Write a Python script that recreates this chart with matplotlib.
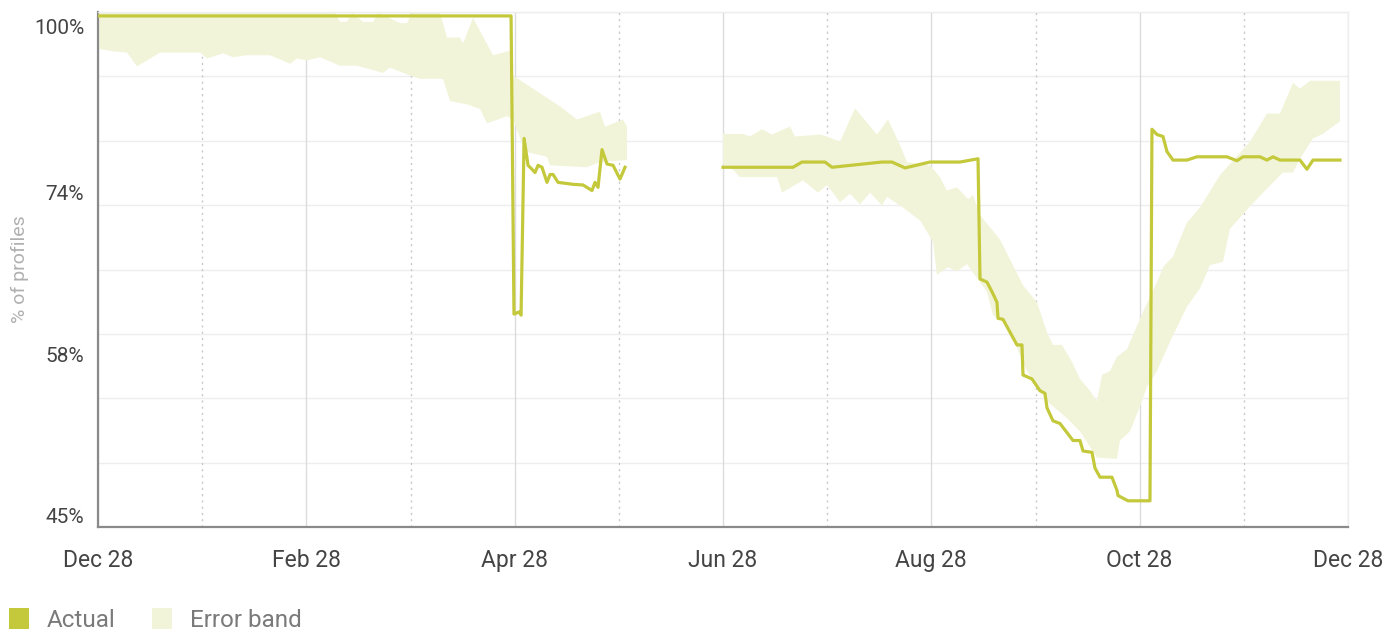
import numpy as np
import matplotlib
matplotlib.use('Agg')
import matplotlib.pyplot as plt
from matplotlib.patches import Patch
from matplotlib.transforms import ScaledTranslation

plt.rcParams['font.family'] = ['Roboto', 'DejaVu Sans']

# x is measured in months after Dec 28
month_labels = ['Dec 28', 'Feb 28', 'Apr 28', 'Jun 28', 'Aug 28', 'Oct 28', 'Dec 28']
y_ticks = [45, 58, 74, 100]

# Actual, first stretch (Dec - May)
actual1_x = [0, 3.965, 3.993, 4.042, 4.061, 4.09, 4.128, 4.166, 4.195, 4.224, 4.262, 4.31,
             4.339, 4.368, 4.416, 4.56, 4.656, 4.742, 4.771, 4.8, 4.838, 4.886, 4.944, 5.011, 5.059]
actual1_y = [100, 100, 62.0, 62.2, 61.9, 81.3, 77.2, 76.6, 76.1, 77.2, 76.9, 74.6,
             75.8, 75.8, 74.6, 74.3, 74.2, 73.6, 74.6, 73.9, 79.6, 77.4, 77.2, 75.1, 76.9]

# Actual, second stretch (Jun - Dec)
actual2_x = [6.0, 6.672, 6.758, 6.979, 7.046, 7.526, 7.622, 7.747, 7.987, 8.275, 8.448, 8.467,
             8.534, 8.582, 8.63, 8.64, 8.688, 8.822, 8.87, 8.88, 8.966, 9.043, 9.091, 9.11,
             9.168, 9.235, 9.36, 9.427, 9.456, 9.542, 9.571, 9.619, 9.734, 9.782, 9.792, 9.888,
             10.099, 10.118, 10.166, 10.224, 10.262, 10.32, 10.454, 10.55, 10.838, 10.934,
             10.992, 11.155, 11.222, 11.28, 11.347, 11.539, 11.606, 11.664, 11.923]
actual2_y = [76.9, 76.9, 77.7, 77.7, 76.9, 77.7, 77.7, 76.8, 77.7, 77.7, 78.2, 65.3,
             65.0, 64.1, 63.1, 61.6, 61.5, 59.1, 59.1, 56.6, 56.3, 55.4, 55.2, 54.1,
             53.1, 52.9, 51.6, 51.6, 50.8, 50.7, 49.5, 48.8, 48.8, 47.8, 47.4, 47.0,
             47.0, 82.7, 81.9, 81.6, 79.3, 78.0, 78.0, 78.5, 78.5, 77.9,
             78.5, 78.5, 78.0, 78.5, 78.0, 78.0, 76.6, 78.0, 78.0]

# Error band, first stretch
band1_up_x = [0, 2.275, 2.323, 2.39, 2.438, 2.544, 2.64, 2.688, 2.899, 2.966, 3.014, 3.283,
              3.35, 3.475, 3.504, 3.6, 3.792, 3.955, 3.984, 4.214, 4.435, 4.598, 4.819,
              4.867, 5.04, 5.078]
band1_up = [100.5, 100.5, 99.1, 99.1, 100.5, 99.1, 99.1, 100.5, 98.9, 98.9, 100.5, 100.5,
            96.7, 96.7, 95.8, 99.7, 94.0, 94.7, 90.9, 88.5, 86.2, 84.2, 85.4,
            83.1, 84.2, 83.1]
band1_lo_x = [0, 0.144, 0.278, 0.374, 0.595, 0.979, 1.046, 1.2, 1.296, 1.43, 1.651, 1.843,
              1.91, 2.006, 2.131, 2.323, 2.486, 2.736, 2.803, 2.995, 3.091, 3.312, 3.379,
              3.542, 3.667, 3.734, 3.926, 3.984, 4.099, 4.31, 4.339, 4.694, 4.819, 5.078]
band1_lo = [95.0, 94.6, 94.4, 92.3, 94.4, 94.4, 93.5, 94.3, 93.7, 94.0, 94.0, 92.7,
            93.5, 93.2, 93.7, 92.4, 92.4, 91.3, 92.1, 90.9, 90.4, 90.4, 87.0,
            86.5, 85.8, 83.6, 84.7, 84.2, 79.3, 78.5, 77.2, 76.9, 77.7, 78.0]

# Error band, second stretch
band2_up_x = [6.0, 6.192, 6.259, 6.374, 6.47, 6.643, 6.691, 6.931, 6.998, 7.123, 7.267, 7.478,
              7.584, 7.699, 7.766, 7.987, 8.083, 8.15, 8.246, 8.352, 8.4, 8.467, 8.659, 8.88,
              9.014, 9.11, 9.168, 9.254, 9.35, 9.427, 9.523, 9.59, 9.638, 9.715, 9.782, 9.878,
              10.032, 10.166, 10.224, 10.32, 10.454, 10.579, 10.771, 11.059, 11.222, 11.347,
              11.472, 11.539, 11.635, 11.923]
band2_up = [82.0, 82.0, 81.6, 82.7, 81.9, 83.1, 81.6, 81.9, 81.6, 80.8, 85.9, 81.9,
            84.2, 80.3, 77.7, 77.2, 75.4, 73.6, 73.9, 72.8, 73.2, 71.3, 69.0, 64.7,
            63.1, 60.3, 59.1, 59.1, 57.6, 56.3, 55.4, 54.6, 56.6, 56.9, 58.0, 58.7,
            62.2, 65.0, 66.4, 67.4, 70.6, 72.0, 75.7, 80.8, 85.1, 85.1,
            89.8, 88.9, 90.1, 90.1]
band2_lo_x = [6.0, 6.096, 6.163, 6.518, 6.566, 6.768, 6.912, 6.998, 7.123, 7.219, 7.315, 7.411,
              7.526, 7.574, 7.728, 7.891, 8.016, 8.054, 8.16, 8.246, 8.342, 8.467, 8.534, 8.592,
              8.688, 8.784, 8.918, 9.11, 9.302, 9.427, 9.59, 9.782, 9.811, 9.907, 10.003, 10.07,
              10.166, 10.291, 10.454, 10.579, 10.675, 10.8, 10.867, 11.03, 11.184, 11.376,
              11.472, 11.539, 11.664, 11.76, 11.827, 11.923]
band2_lo = [77.4, 76.5, 75.4, 75.4, 73.4, 74.9, 73.4, 74.2, 72.5, 73.3, 72.3, 73.4,
            72.2, 73.0, 72.0, 70.8, 68.8, 65.7, 66.4, 66.0, 66.7, 65.0, 64.1, 61.9,
            61.3, 59.7, 56.9, 54.6, 53.3, 52.3, 50.3, 50.2, 51.6, 52.3, 54.2, 55.7,
            56.9, 59.4, 62.7, 64.4, 66.6, 66.9, 70.0, 71.8, 73.4, 76.1,
            76.1, 78.2, 81.3, 82.0, 82.8, 83.9]

line_color = '#c4c93b'
band_color = '#f2f4da'

# the value axis is not linear: the four labels sit at equal distances
scale_v = [40, 45, 58, 74, 100, 110]
scale_s = [-5 / 13, 0, 1, 2, 3, 3 + 10 / 26]


def forward(v):
    return np.interp(v, scale_v, scale_s)


def inverse(s):
    return np.interp(s, scale_s, scale_v)


fig = plt.figure(figsize=(13.95, 6.31), dpi=100)
ax = fig.add_axes([0.0703, 0.1648, 0.8960, 0.8162])
ax.set_yscale('function', functions=(forward, inverse))

for bx_up, b_up, bx_lo, b_lo in [(band1_up_x, band1_up, band1_lo_x, band1_lo),
                                 (band2_up_x, band2_up, band2_lo_x, band2_lo)]:
    ax.fill(np.concatenate([bx_up, bx_lo[::-1]]), np.concatenate([b_up, b_lo[::-1]]),
            color=band_color, lw=0, zorder=2)

ax.plot(actual1_x, actual1_y, color=line_color, lw=2.3, zorder=3)
ax.plot(actual2_x, actual2_y, color=line_color, lw=2.3, zorder=3)

ax.set_xlim(0, 12)
ax.set_ylim(45, 100.6)

ax.set_xticks(range(0, 13, 2))
ax.set_xticklabels(month_labels)
ax.set_xticks(range(1, 12, 2), minor=True)
ax.set_yticks(y_ticks)
ax.set_yticklabels([f'{t}%' for t in y_ticks])
ax.yaxis.set_minor_locator(plt.NullLocator())

ax.tick_params(axis='x', which='both', length=0, pad=16, labelsize=16.5, labelcolor='#444444')
ax.tick_params(axis='y', length=0, pad=10, labelsize=15, labelcolor='#444444')

# shift the y labels the way the original places them
shifts = [12, 2, -6, -11]
for lab, dy in zip(ax.get_yticklabels(), shifts):
    lab.set_transform(lab.get_transform() + ScaledTranslation(0, dy / 100, fig.dpi_scale_trans))

ax.grid(axis='x', which='major', color='#dcdcdc', lw=1, zorder=0)
ax.grid(axis='x', which='minor', color='#c8c8c8', lw=1, ls=(0, (1.5, 3)), zorder=0)
for k in range(1, 9):
    ax.plot([0, 1], [k / 8, k / 8], transform=ax.transAxes, color='#eeeeee', lw=1, zorder=1)

for side in ['left', 'bottom']:
    ax.spines[side].set_color('#8a8a8a')
    ax.spines[side].set_linewidth(1.6)
for side in ['top', 'right']:
    ax.spines[side].set_color('#eeeeee')
    ax.spines[side].set_linewidth(1)

ax.set_ylabel('% of profiles', fontsize=14, color='#b0b0b0')
ax.yaxis.set_label_coords(-0.055, 0.5)

handles = [Patch(facecolor=line_color, edgecolor='none', label='Actual'),
           Patch(facecolor=band_color, edgecolor='none', label='Error band')]
fig.legend(handles=handles, loc='lower left', bbox_to_anchor=(-0.009, -0.036), ncol=2,
           frameon=False, fontsize=17.5, handlelength=0.8, handleheight=1.0,
           handletextpad=0.75, columnspacing=1.5, labelcolor='#7a7a7a')

fig.savefig('out.png', dpi=100)
